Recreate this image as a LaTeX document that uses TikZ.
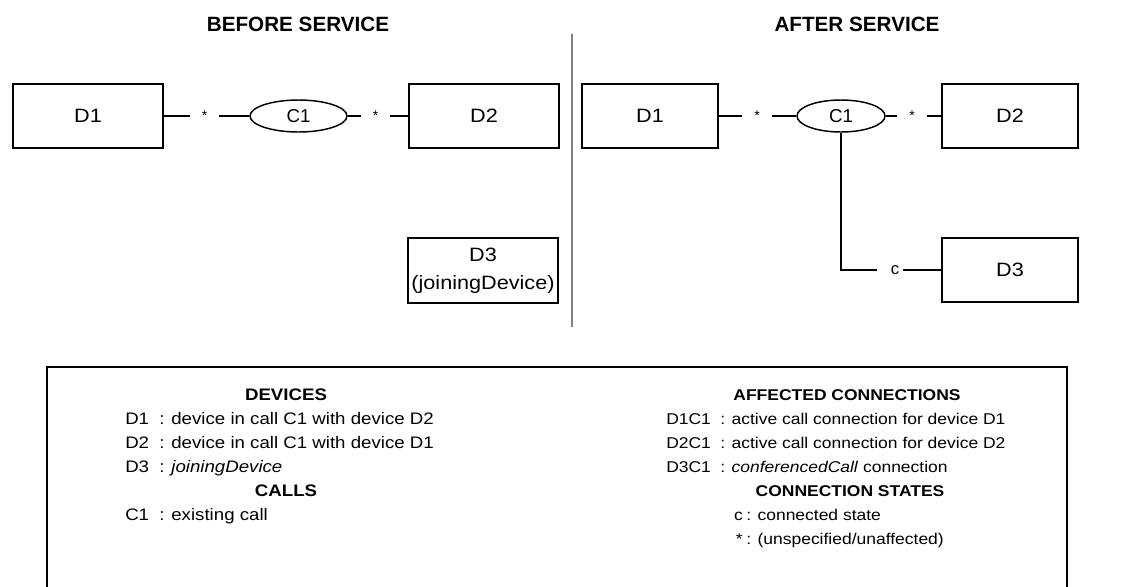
\documentclass[tikz,border=0pt]{standalone}
\usepackage{fontspec}
\setmainfont{Liberation Sans}
\newfontfamily\lgfont[FakeStretch=1.12]{Liberation Sans}
\usetikzlibrary{shapes.geometric}
\begin{document}
\begin{tikzpicture}[x=0.75pt,y=-0.75pt,
  dev/.style={draw,line width=1.5pt,minimum height=48pt,inner sep=0pt,font=\lgfont\fontsize{14.5}{21}\selectfont,align=center},
  call/.style={draw,ellipse,line width=1.1pt,minimum height=24pt,inner sep=0pt,font=\fontsize{14}{17}\selectfont},
  lbl/.style={inner sep=0pt,minimum width=22pt,minimum height=10pt,font=\fontsize{10.5}{12}\selectfont},
  conn/.style={line width=1.5pt},
  ttl/.style={inner sep=0pt,font=\fontsize{15.5}{18}\selectfont\bfseries},
  lg/.style={anchor=base west,inner sep=0pt,font=\lgfont\fontsize{11.7}{14}\selectfont},
  lgk/.style={anchor=base east,inner sep=0pt,font=\lgfont\fontsize{11.7}{14}\selectfont},
  lgh/.style={anchor=base,inner sep=0pt,font=\lgfont\fontsize{11.7}{14}\selectfont\bfseries},
  lgl/.style={anchor=base west,inner sep=0pt,font=\lgfont\fontsize{12.5}{14}\selectfont},
  lglh/.style={anchor=base,inner sep=0pt,font=\lgfont\fontsize{12.5}{14}\selectfont\bfseries}]
\useasboundingbox (0,0) rectangle (1135,586);

% titles and divider
\node[ttl] (tb) at (298,24.5) {BEFORE SERVICE};
\node[ttl] (ta) at (857,24.5) {AFTER SERVICE};
\draw[line width=1.5pt,color={rgb,255:red,128;green,128;blue,128}] (572,34) -- (572,327);

% before service
\node[dev,minimum width=112.5pt] (bD1) at (88,116) {D1};
\node[call,minimum width=72.75pt] (bC1) at (298.5,116) {C1};
\node[dev,minimum width=112.5pt] (bD2) at (484,116) {D2};
\node[dev,minimum width=112.5pt,minimum height=48.75pt] (bD3) at (483,270.5) {D3\\(joiningDevice)};
\node[lbl] (bs1) at (204.5,116) {*};
\node[lbl] (bs2) at (375.5,116) {*};
\draw[conn] (bD1) -- (bs1);
\draw[conn] (bs1) -- (bC1);
\draw[conn] (bC1) -- (bs2);
\draw[conn] (bs2) -- (bD2);

% after service
\node[dev,minimum width=102pt] (aD1) at (650,116) {D1};
\node[call,minimum width=66pt] (aC1) at (841,116) {C1};
\node[dev,minimum width=102pt] (aD2) at (1010,116) {D2};
\node[dev,minimum width=102pt] (aD3) at (1010,270) {D3};
\node[lbl] (as1) at (757,116) {*};
\node[lbl] (as2) at (912,116) {*};
\node[inner sep=0pt,font=\fontsize{12.5}{14}\selectfont] (ac) at (895,270) {c};
\coordinate (acl) at (877,270);
\draw[conn] (aD1) -- (as1);
\draw[conn] (as1) -- (aC1);
\draw[conn] (aC1) -- (as2);
\draw[conn] (as2) -- (aD2);
\draw[conn] (aC1.south) |- (acl);
\draw[conn] ([xshift=2.5pt]ac.east) -- (aD3.west);

% legend
\draw[line width=1.5pt] (47,590) -- (47,367) -- (1067,367) -- (1067,590);
\node[lglh] (hdev) at (286,400) {DEVICES};
\node[lgl] (k1) at (125,424) {D1};
\node[lgl] (v1) at (159,424) {: device in call C1 with device D2};
\node[lgl] (k2) at (125,448) {D2};
\node[lgl] (v2) at (159,448) {: device in call C1 with device D1};
\node[lgl] (k3) at (125,472) {D3};
\node[lgl] (v3) at (159,472) {: \textit{joiningDevice}};
\node[lglh] (hcall) at (286,496) {CALLS};
\node[lgl] (k4) at (125,520) {C1};
\node[lgl] (v4) at (159,520) {: existing call};

\node[lgh] (hcon) at (847,400) {AFFECTED CONNECTIONS};
\node[lg] (k5) at (666,424) {D1C1};
\node[lg] (v5) at (720,424) {: active call connection for device D1};
\node[lg] (k6) at (666,448) {D2C1};
\node[lg] (v6) at (720,448) {: active call connection for device D2};
\node[lg] (k7) at (666,472) {D3C1};
\node[lg] (v7) at (720,472) {: \textit{conferencedCall} connection};
\node[lgh] (hst) at (850,496) {CONNECTION STATES};
\node[lgk] (k8) at (743,520) {c};
\node[lg] (v8) at (746,520) {: connected state};
\node[lgk] (k9) at (743,544) {*};
\node[lg] (v9) at (746,544) {: (unspecified/unaffected)};
\end{tikzpicture}
\end{document}
